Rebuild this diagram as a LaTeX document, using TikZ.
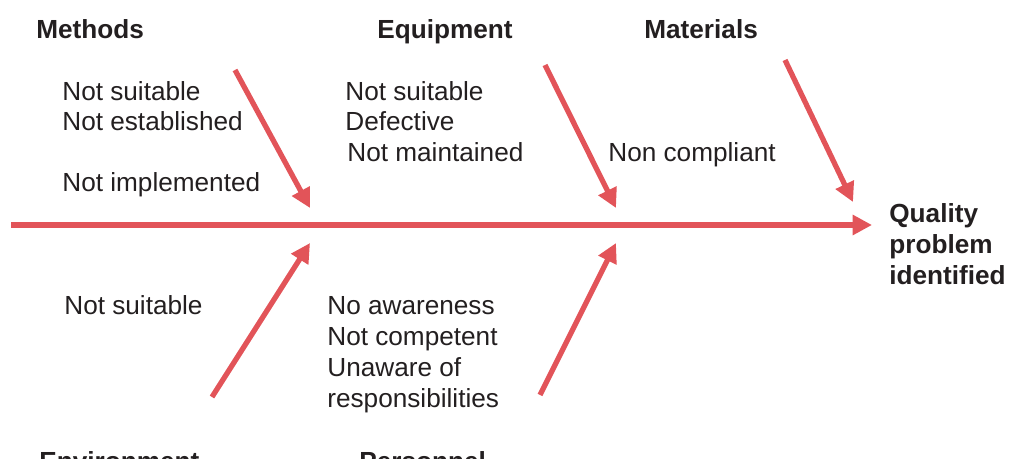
\documentclass[tikz,border=0pt]{standalone}
\usepackage{fontspec}
\setmainfont{Liberation Sans}
\usetikzlibrary{arrows.meta,positioning}
\definecolor{boneRed}{RGB}{226,84,89}
\definecolor{labelGray}{RGB}{35,31,32}
\tikzset{
  bone/.style={draw=boneRed,line width=3pt,-{Triangle[length=11pt,width=11pt]}},
  cause/.style={anchor=base west,inner sep=0pt,align=left,text=labelGray,
                font=\fontsize{14.9}{17.6}\selectfont},
  category/.style={cause,font=\bfseries\fontsize{14.9}{17.6}\selectfont}
}

\begin{document}
\begin{tikzpicture}[x=0.02cm,y=-0.02cm]
\useasboundingbox (0,0) rectangle (1010,459);

% categories
\node[category] (methods)     at (36,39)  {Methods};
\node[category] (equipment)   at (377,39) {Equipment};
\node[category] (materials)   at (644,39) {Materials};
\node[category] (environment) at (39,470) {Environment};
\node[category] (personnel)   at (359,470) {Personnel};
\node[category] (quality)     at (889,284) {Quality\\problem\\identified};

% causes (base = last line)
\node[cause] (methCause)  at (62,131)  {Not suitable\\Not established};
\node[cause] (methImpl)   at (62,192)  {Not implemented};
\node[cause] (equipCause) at (345,131) {Not suitable\\Defective};
\node[cause] (equipMaint) at (347,162) {Not maintained};
\node[cause] (matCause)   at (608,162) {Non compliant};
\node[cause] (envCause)   at (64,314)  {Not suitable};
\node[cause] (persCause)  at (327,407) {No awareness\\Not competent\\Unaware of\\responsibilities};

% spine
\coordinate (spineTail) at (11,225);
\coordinate (spineHead) at (872,225);
\draw[bone] (spineTail) -- (spineHead);

% bones
\foreach \bname/\sx/\sy/\tx/\ty in {
  meth/235/70/310/208,
  equip/545/65/616/208,
  mat/785/60/853/202,
  env/212/397/310/243,
  pers/540/395/616/243}
{
  \coordinate (\bname Start) at (\sx,\sy);
  \coordinate (\bname Tip) at (\tx,\ty);
  \draw[bone] (\bname Start) -- (\bname Tip);
}
\end{tikzpicture}
\end{document}
